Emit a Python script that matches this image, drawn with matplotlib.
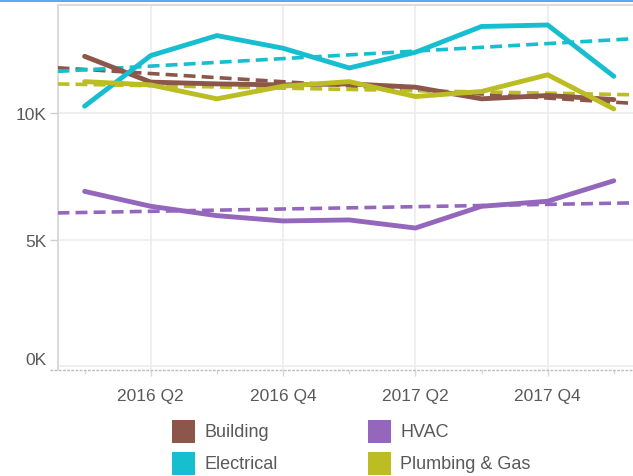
import numpy as np
import matplotlib
matplotlib.use("Agg")
import matplotlib.pyplot as plt
from matplotlib.patches import Rectangle
from matplotlib.transforms import ScaledTranslation

plt.rcParams['font.family'] = ['Liberation Sans', 'DejaVu Sans']

# quarterly data, 2016 Q1 .. 2018 Q1 (values in K)
quarters = ["2016 Q1", "2016 Q2", "2016 Q3", "2016 Q4", "2017 Q1",
            "2017 Q2", "2017 Q3", "2017 Q4", "2018 Q1"]
building = [12.25, 11.23, 11.16, 11.12, 11.16, 11.03, 10.57, 10.70, 10.54]
electrical = [10.28, 12.28, 13.07, 12.57, 11.79, 12.41, 13.43, 13.49, 11.46]
hvac = [6.91, 6.32, 5.95, 5.74, 5.78, 5.46, 6.32, 6.52, 7.33]
plumbing = [11.25, 11.12, 10.57, 11.07, 11.25, 10.66, 10.86, 11.52, 10.17]

series_names = ["Building", "Electrical", "HVAC", "Plumbing & Gas"]
series_values = [building, electrical, hvac, plumbing]
series_colors = ["#8c564b", "#17becf", "#9467bd", "#bcbd22"]

major_ticks = [1, 3, 5, 7]
minor_ticks = [0, 2, 4, 6, 8]
y_ticks = [0, 5, 10]
y_labels = ["0K", "5K", "10K"]

W, H = 633, 477
fig = plt.figure(figsize=(W / 100, H / 100), dpi=100)
ax = fig.add_axes([57.5 / W, 1 - 371 / H, 1 - 57.5 / W, (371 - 6) / H])

x = np.arange(len(quarters))
xlo, xhi = -0.41, 8.29
xs = np.array([xlo, xhi])

# trend lines first, then actual series on top
for vals, col in zip(series_values, series_colors):
    k, b = np.polyfit(x, vals, 1)
    ax.plot(xs, k * xs + b, color=col, lw=2.6, dashes=(3.3, 1.7), zorder=3)
for vals, col in zip(series_values, series_colors):
    ax.plot(x, vals, color=col, lw=3.5, solid_capstyle='round',
            solid_joinstyle='round', zorder=4)

ax.set_xlim(xlo, xhi)
ax.set_ylim(-0.154, 14.28)

ax.set_xticks(major_ticks)
ax.set_xticklabels([quarters[i] for i in major_ticks])
ax.set_xticks(minor_ticks, minor=True)
ax.set_yticks(y_ticks)
ax.set_yticklabels(y_labels)

ax.grid(True, which='major', color='#ececec', lw=1.2)
ax.set_axisbelow(True)

ax.spines['right'].set_visible(False)
ax.spines['bottom'].set_visible(False)
ax.spines['left'].set_color('#d4d4d4')
ax.spines['top'].set_color('#dcdcdc')
ax.spines['left'].set_linewidth(1.2)
ax.spines['top'].set_linewidth(1.5)

# dashed base line, extending a bit left of the spine
ax.plot([-8 / (W - 57.5), 1], [0, 0], transform=ax.transAxes, color='#bdbdbd',
        lw=1.0, ls=(0, (2, 1)), clip_on=False, zorder=2)

ax.tick_params(axis='y', length=6, width=1, color='#d0d0d0', pad=2,
               labelsize=12.5, labelcolor='#595959')
ax.tick_params(axis='x', which='major', length=4, width=1, color='#d8d8d8',
               pad=9, labelsize=12.5, labelcolor='#595959')
ax.tick_params(axis='x', which='minor', length=3, width=1, color='#d8d8d8')
ax.yaxis.get_major_ticks()[0].tick1line.set_visible(False)
lab0 = ax.get_yticklabels()[0]
lab0.set_transform(lab0.get_transform() + ScaledTranslation(0, 0.08, fig.dpi_scale_trans))

# top accent bar
fig.add_artist(Rectangle((0, 1 - 3 / H), 1, 3 / H, transform=fig.transFigure,
                         color='#5aaaf3', lw=0))

# legend, 2 columns
leg_x = [172, 368]
leg_y = [421, 453]
for i, (name, col) in enumerate(zip(series_names, series_colors)):
    cx = leg_x[i // 2]
    cy = leg_y[i % 2]
    fig.add_artist(Rectangle((cx / W, 1 - (cy + 23) / H), 23 / W, 23 / H,
                             transform=fig.transFigure, color=col, lw=0))
    fig.text((cx + 32) / W, 1 - (cy + 12) / H, name, fontsize=13,
             color='#595959', va='center', ha='left')

fig.savefig("out.png", dpi=100)
